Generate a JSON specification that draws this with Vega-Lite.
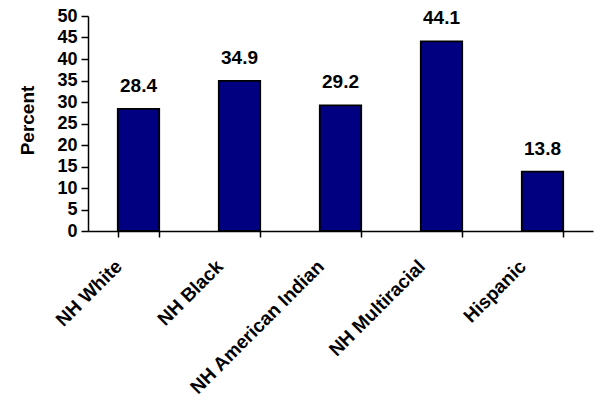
{
  "$schema": "https://vega.github.io/schema/vega-lite/v6.json",
  "width": 505,
  "height": 215,
  "autosize": {"type": "none"},
  "padding": {"left": 88, "top": 16, "right": 2, "bottom": 182},
  "background": "white",
  "config": {
    "view": {"stroke": null},
    "font": "Liberation Sans",
    "axis": {
      "domainColor": "black",
      "domainWidth": 1.5,
      "tickColor": "black",
      "tickWidth": 1.5,
      "labelColor": "black",
      "titleColor": "black",
      "labelFont": "Liberation Sans",
      "titleFont": "Liberation Sans",
      "labelFontWeight": "bold",
      "titleFontWeight": "bold",
      "grid": false
    }
  },
  "data": {
    "values": [
      {"group": "NH White", "percent": 28.4},
      {"group": "NH Black", "percent": 34.9},
      {"group": "NH American Indian", "percent": 29.2},
      {"group": "NH Multiracial", "percent": 44.1},
      {"group": "Hispanic", "percent": 13.8}
    ]
  },
  "encoding": {
    "x": {
      "field": "group",
      "type": "nominal",
      "sort": null,
      "scale": {"paddingInner": 0.59, "paddingOuter": 0.295},
      "axis": {
        "title": null,
        "labelAngle": -45,
        "labelAlign": "right",
        "labelBaseline": "middle",
        "labelFontSize": 19,
        "labelPadding": 26,
        "labelOffset": -20,
        "labelLimit": 400,
        "tickSize": 6,
        "tickBand": "extent"
      }
    },
    "y": {
      "field": "percent",
      "type": "quantitative",
      "scale": {"domain": [0, 50], "nice": false},
      "axis": {
        "title": "Percent",
        "titleFontSize": 19,
        "titlePadding": 19,
        "titleY": 104,
        "values": [0, 5, 10, 15, 20, 25, 30, 35, 40, 45, 50],
        "labelFontSize": 18,
        "labelPadding": 4,
        "tickSize": 7
      }
    }
  },
  "layer": [
    {
      "mark": {"type": "bar", "color": "#000080", "stroke": "black", "strokeWidth": 1.8}
    },
    {
      "mark": {"type": "text", "baseline": "bottom", "dy": -13, "fontSize": 19, "fontWeight": "bold", "color": "black"},
      "encoding": {"text": {"field": "percent", "type": "quantitative", "format": ".1f"}}
    }
  ]
}
